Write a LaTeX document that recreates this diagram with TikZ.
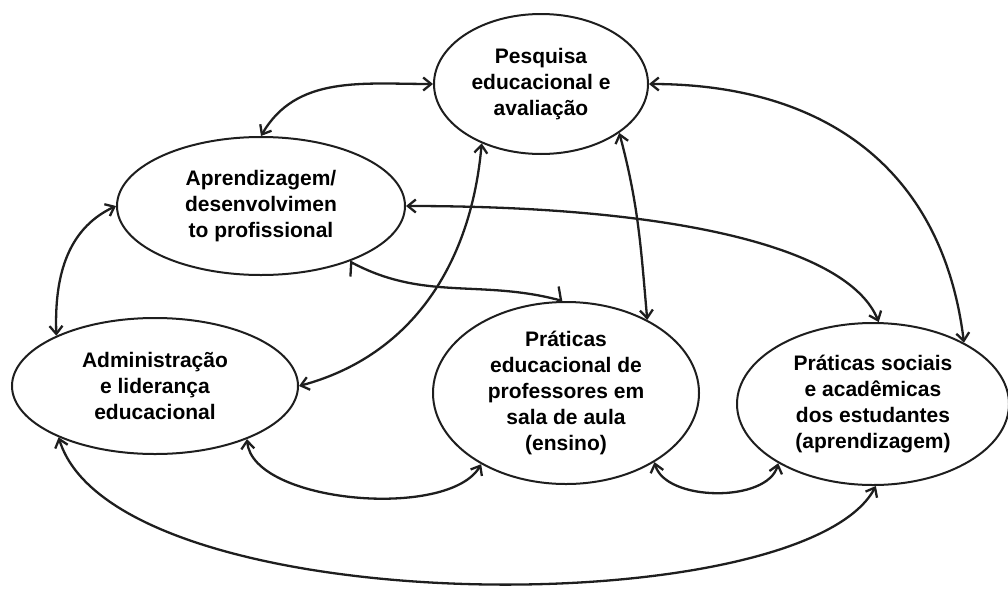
\documentclass[tikz,border=0pt]{standalone}
\usepackage{fontspec}
\setmainfont{Liberation Sans}
\usetikzlibrary{shapes.geometric, arrows.meta}
\definecolor{ink}{HTML}{1E1E1E}
\begin{document}
\begin{tikzpicture}[x=1pt, y=1pt,
  bubble/.style={ellipse, draw=ink, line width=2pt, inner sep=0pt, align=center,
    text=black, font=\fontsize{21}{26}\selectfont\bfseries},
  link/.style={draw=ink, line width=2.3pt,
    {Straight Barb[length=8pt,width=13pt]}-{Straight Barb[length=8pt,width=13pt]}},
  hooklink/.style={draw=ink, line width=2.3pt,
    {Straight Barb[harpoon,length=6pt,width=26pt]}-{Straight Barb[harpoon,length=6pt,width=26pt]}}
]
\useasboundingbox (0,0) rectangle (1008,-589);

% the five themes
\node[bubble, minimum width=214pt, minimum height=140pt] (pesq) at (541,-84)
  {Pesquisa\\educacional e\\avaliação};
\node[bubble, minimum width=288pt, minimum height=138pt] (apr) at (261,-206)
  {Aprendizagem/\\desenvolvimen\\to profissional};
\node[bubble, minimum width=286pt, minimum height=136pt] (adm) at (155,-386)
  {Administração\\e liderança\\educacional};
\node[bubble, minimum width=266pt, minimum height=182pt] (edu) at (566,-393)
  {Práticas\\educacional de\\professores em\\sala de aula\\(ensino)};
\node[bubble, minimum width=272pt, minimum height=162pt] (soc) at (873,-404)
  {Práticas sociais\\e acadêmicas\\dos estudantes\\(aprendizagem)};

% two-way relations
\draw[link] (apr.90) to[out=60, in=180] (pesq.180);
\draw[link] (pesq.0) to[out=0, in=97, looseness=1.1] (soc.34);
\draw[link] (pesq.-32) to[out=-75, in=95] (edu.42);
\draw[link] (adm.0) to[out=15, in=-95] (pesq.-135);
\draw[link] (apr.0) to[out=0, in=112, out distance=270pt, in distance=80pt] (soc.86);
\draw[hooklink] (apr.-32) to[out=-28, in=165] (edu.92);
\draw[link] (apr.180) to[out=205, in=92] (adm.153);
\draw[link] (adm.-30) to[out=-85, in=-120, looseness=0.7] (edu.-140);
\draw[link] (edu.-38) to[out=-75, in=-105, looseness=0.85] (soc.-148);
\draw[link] (adm.-152) to[out=-73, in=-118, out distance=194pt, in distance=157pt] (soc.-88);
\end{tikzpicture}
\end{document}
